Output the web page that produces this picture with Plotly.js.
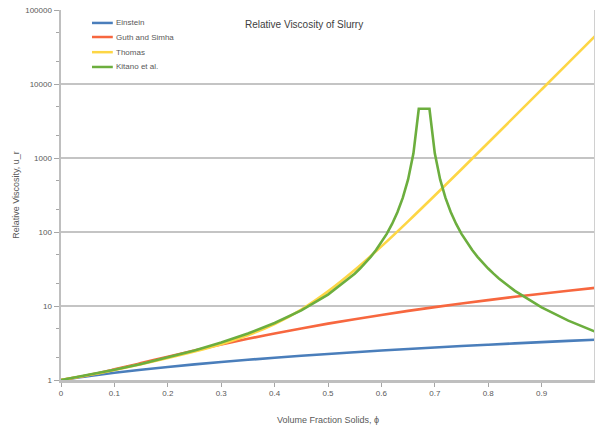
<!DOCTYPE html>
<html>
<head>
<meta charset="utf-8">
<script src="https://cdn.plot.ly/plotly-3.0.1.min.js"></script>
<style>html,body{margin:0;padding:0;background:#fff;}#chart{width:595px;height:430px;}</style>
</head>
<body>
<div id="chart"></div>
<script>
// Volume fraction solids (phi) grid for smooth series
const phi = [0, 0.05, 0.1, 0.15, 0.2, 0.25, 0.3, 0.35, 0.4, 0.45, 0.5, 0.55, 0.6, 0.65, 0.7, 0.75, 0.8, 0.85, 0.9, 0.95, 1.0];
const einstein = [1, 1.125, 1.25, 1.375, 1.5, 1.625, 1.75, 1.875, 2, 2.125, 2.25, 2.375, 2.5, 2.625, 2.75, 2.875, 3, 3.125, 3.25, 3.375, 3.5];
const guthSimha = [1, 1.160, 1.391, 1.692, 2.064, 2.506, 3.019, 3.602, 4.256, 4.980, 5.775, 6.640, 7.576, 8.582, 9.659, 10.81, 12.02, 13.31, 14.67, 16.10, 17.6];
const thomas = [1.003, 1.156, 1.365, 1.634, 1.978, 2.426, 3.052, 4.017, 5.696, 8.950, 15.75, 30.61, 63.89, 139.4, 311.6, 705.4, 1608, 3675, 8417, 19287, 44227];

// Kitano et al. (finer sampling near the peak)
const phiKitano = [0, 0.05, 0.1, 0.15, 0.2, 0.25, 0.3, 0.35, 0.4, 0.45, 0.5, 0.55, 0.56, 0.57, 0.58, 0.59, 0.6, 0.61, 0.62, 0.63, 0.64, 0.65, 0.66, 0.67, 0.69, 0.7, 0.71, 0.72, 0.73, 0.74, 0.75, 0.76, 0.77, 0.78, 0.79, 0.8, 0.81, 0.82, 0.85, 0.9, 0.95, 1.0];
const kitano = [1, 1.165, 1.375, 1.646, 2.007, 2.501, 3.202, 4.246, 5.898, 8.741, 14.27, 27.36, 32.11, 38.21, 46.24, 57.09, 72.25, 94.37, 128.4, 185.0, 289.0, 513.8, 1156, 4624, 4624, 1156, 513.8, 289.0, 185.0, 128.4, 94.37, 72.25, 57.09, 46.24, 38.21, 32.11, 27.36, 23.59, 16.0, 9.554, 6.343, 4.516];

const seriesNames = ["Einstein", "Guth and Simha", "Thomas", "Kitano et al."];
const yTickVals = [1, 10, 100, 1000, 10000, 100000];
const yTickText = ["1", "10", "100", "1000", "10000", "100000"];
const xTickVals = [0, 0.1, 0.2, 0.3, 0.4, 0.5, 0.6, 0.7, 0.8, 0.9, 1];
const xTickText = ["0", "0.1", "0.2", "0.3", "0.4", "0.5", "0.6", "0.7", "0.8", "0.9", "1"];

const colors = ["#4a7ebb", "#f7673f", "#fdd645", "#6cae3e"];
const lw = 2.6;

const traces = [
  {x: phi, y: einstein, name: seriesNames[0], mode: "lines", line: {color: colors[0], width: lw, shape: "spline"}},
  {x: phi, y: guthSimha, name: seriesNames[1], mode: "lines", line: {color: colors[1], width: lw, shape: "spline"}},
  {x: phi, y: thomas, name: seriesNames[2], mode: "lines", line: {color: colors[2], width: lw, shape: "spline"}},
  {x: phiKitano, y: kitano, name: seriesNames[3], mode: "lines", line: {color: colors[3], width: lw}}
];

const fontFam = "Liberation Sans, Arial, sans-serif";
const tickFont = {family: fontFam, size: 8, color: "#595959"};

// Manual legend (tighter spacing than Plotly's built-in legend)
const legendY = [0.965, 0.927, 0.886, 0.846];
const legendShapes = seriesNames.map((n, i) => ({
  type: "line", xref: "paper", yref: "paper", x0: 0.058, x1: 0.097, y0: legendY[i], y1: legendY[i],
  line: {color: colors[i], width: 2.5}
}));
const legendAnns = seriesNames.map((n, i) => ({
  text: n, xref: "paper", yref: "paper", x: 0.1, y: legendY[i], xanchor: "left", yanchor: "middle",
  showarrow: false, font: {family: fontFam, size: 8, color: "#595959"}
}));

const layout = {
  width: 595, height: 430,
  margin: {l: 61, r: 0, t: 10, b: 50},
  paper_bgcolor: "#ffffff", plot_bgcolor: "#ffffff",
  showlegend: false,
  xaxis: {
    range: [0, 1], tickvals: xTickVals, ticktext: xTickText,
    showgrid: false, zeroline: false,
    showline: true, linecolor: "#bfbfbf", linewidth: 2.5,
    ticks: "outside", ticklen: 4, tickcolor: "#a6a6a6", tickwidth: 1,
    tickfont: tickFont,
    title: {text: "Volume Fraction Solids, ϕ", font: {family: fontFam, size: 9, color: "#595959"}, standoff: 20}
  },
  yaxis: {
    type: "log", range: [0, 5], tickvals: yTickVals, ticktext: yTickText,
    showgrid: true, gridcolor: "#c4c4c4", gridwidth: 2.5,
    zeroline: false, showline: true, linecolor: "#bfbfbf", linewidth: 2.5,
    ticks: "outside", ticklen: 5, tickcolor: "#a6a6a6", tickwidth: 1,
    minor: {ticks: "outside", ticklen: 3, tickcolor: "#a6a6a6", showgrid: false},
    tickfont: tickFont,
    title: {text: "Relative Viscosity, u_r", font: {family: fontFam, size: 9, color: "#595959"}, standoff: 4}
  },
  shapes: [
    {type: "line", xref: "paper", yref: "paper", x0: 1, x1: 1, y0: 0, y1: 1, line: {color: "#d0d0d0", width: 2}}
  ].concat(legendShapes),
  annotations: [
    {text: "Relative Viscosity of Slurry", xref: "paper", yref: "paper", x: 0.455, y: 0.962, xanchor: "center", yanchor: "middle",
     showarrow: false, font: {family: fontFam, size: 10, color: "#404040"}}
  ].concat(legendAnns)
};

Plotly.newPlot("chart", traces, layout, {staticPlot: true, displayModeBar: false});
</script>
</body>
</html>
